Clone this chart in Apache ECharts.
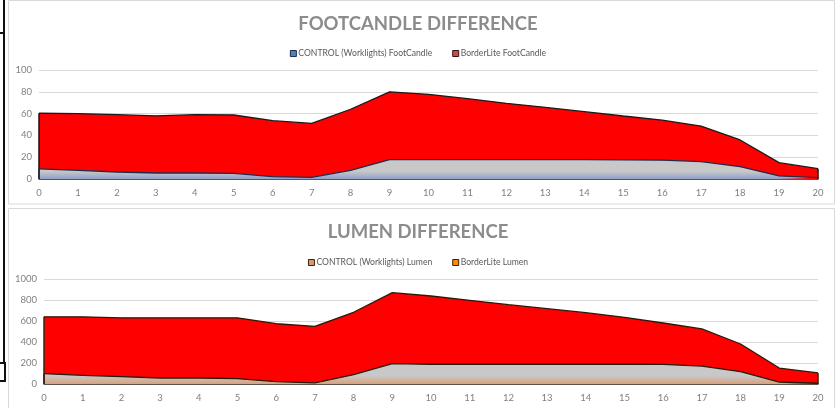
<!DOCTYPE html>
<html><head><meta charset="utf-8">
<script src="https://cdn.jsdelivr.net/npm/echarts@6/dist/echarts.min.js"></script>
<style>html,body{margin:0;padding:0;background:#fff}#c{width:836px;height:408px}</style>
</head><body><div id="c"></div>
<script>
const categories = ['0','1','2','3','4','5','6','7','8','9','10','11','12','13','14','15','16','17','18','19','20'];
const fcControl = [9.2, 8, 6.4, 5.5, 5.5, 5.2, 2.1, 1.5, 8, 17.7, 17.7, 17.7, 17.7, 17.7, 17.7, 17.6, 17.3, 16, 11.3, 2.8, 1.2];
const fcBorderLite = [60.3, 60, 59, 58, 59, 58.7, 53.5, 51, 64, 80, 77.7, 73.7, 69.4, 65.8, 61.8, 57.8, 54, 48.6, 35.8, 15, 9.5];
const lmControl = [98, 83, 70, 57, 57, 51, 22, 10, 89, 194, 188, 188, 188, 188, 188, 188, 186, 171, 117, 19, 7];
const lmBorderLite = [640, 640, 630, 630, 630, 630, 574, 549, 683, 870, 838, 797, 755, 717, 679, 635, 581, 524, 381, 152, 105];
const fcTicks = [0, 20, 40, 60, 80, 100];
const lmTicks = [0, 200, 400, 600, 800, 1000];
const names = {
  fcC: 'CONTROL (Worklights) FootCandle', fcB: 'BorderLite FootCandle',
  lmC: 'CONTROL (Worklights) Lumen', lmB: 'BorderLite Lumen'
};

const FONT = 'Lato';
const chart = echarts.init(document.getElementById('c'), null, {renderer: 'canvas'});
const axisLabel = {color: '#808080', fontSize: 9.5, fontFamily: FONT};
function edge(cat, val) {
  return [{coord: [cat, 0]}, {coord: [cat, val]}];
}
function grad(top, bottom) {
  return new echarts.graphic.LinearGradient(0, 0, 0, 1, [{offset: 0, color: top}, {offset: 0.6, color: top}, {offset: 1, color: bottom}]);
}
const last = categories.length - 1;
const legendText = {color: '#595959', fontSize: 8.6, fontFamily: FONT, padding: [0, 0, 0, -3]};
chart.setOption({
  animation: false,
  title: [
    {text: 'FOOTCANDLE DIFFERENCE', left: 'center', top: 10, textStyle: {color: '#8c8c8c', fontSize: 18.5, fontWeight: 'bold', fontFamily: FONT}},
    {text: 'LUMEN DIFFERENCE', left: 'center', top: 218, textStyle: {color: '#8c8c8c', fontSize: 18.5, fontWeight: 'bold', fontFamily: FONT}}
  ],
  legend: [
    {top: 44, left: 'center', itemWidth: 6, itemHeight: 6, itemGap: 20, icon: 'rect', textStyle: legendText,
     data: [{name: names.fcC, itemStyle: {color: '#4f81bd', borderColor: '#1f2d4d', borderWidth: 1}},
            {name: names.fcB, itemStyle: {color: '#c0504d', borderColor: '#3a1010', borderWidth: 1}}]},
    {top: 253, left: 'center', itemWidth: 6, itemHeight: 6, itemGap: 20, icon: 'rect', textStyle: legendText,
     data: [{name: names.lmC, itemStyle: {color: '#d99a6c', borderColor: '#3a2010', borderWidth: 1}},
            {name: names.lmB, itemStyle: {color: '#ff8c00', borderColor: '#3a2010', borderWidth: 1}}]}
  ],
  grid: [
    {left: 39, right: 18, top: 70, bottom: 229},
    {left: 44, right: 18, top: 279, bottom: 24}
  ],
  xAxis: [
    {gridIndex: 0, type: 'category', data: categories, boundaryGap: false,
     axisLine: {show: true, lineStyle: {color: '#1f2d4d', width: 1.5}}, axisTick: {show: false},
     axisLabel: Object.assign({margin: 9}, axisLabel)},
    {gridIndex: 1, type: 'category', data: categories, boundaryGap: false,
     axisLine: {show: true, lineStyle: {color: '#3a2414', width: 1.5}}, axisTick: {show: false},
     axisLabel: Object.assign({margin: 9}, axisLabel)}
  ],
  yAxis: [
    {gridIndex: 0, type: 'value', min: fcTicks[0], max: fcTicks[fcTicks.length - 1], interval: fcTicks[1] - fcTicks[0],
     axisLine: {show: false}, axisTick: {show: false}, axisLabel: Object.assign({margin: 7, formatter: v => String(v)}, axisLabel),
     splitLine: {lineStyle: {color: '#d9d9d9', width: 1}}},
    {gridIndex: 1, type: 'value', min: lmTicks[0], max: lmTicks[lmTicks.length - 1], interval: lmTicks[1] - lmTicks[0],
     axisLine: {show: false}, axisTick: {show: false}, axisLabel: Object.assign({margin: 7, formatter: v => String(v)}, axisLabel),
     splitLine: {lineStyle: {color: '#d9d9d9', width: 1}}}
  ],
  series: [
    {name: names.fcB, type: 'line', xAxisIndex: 0, yAxisIndex: 0, data: fcBorderLite, showSymbol: false,
     itemStyle: {color: '#c0504d'}, lineStyle: {color: '#1a1a1a', width: 1.3},
     areaStyle: {color: '#ff0000', opacity: 1},
     markLine: {silent: true, symbol: 'none', label: {show: false}, lineStyle: {color: '#2a0a0a', width: 1.5, type: 'solid'},
       data: [edge(categories[0], fcBorderLite[0]), edge(categories[last], fcBorderLite[last])]}},
    {name: names.fcC, type: 'line', xAxisIndex: 0, yAxisIndex: 0, data: fcControl, showSymbol: false,
     itemStyle: {color: '#4f81bd'}, lineStyle: {color: '#1f2d4d', width: 1.3},
     areaStyle: {color: grad('#c8c8c8', '#8fa0c8'), opacity: 1},
     markLine: {silent: true, symbol: 'none', label: {show: false}, lineStyle: {color: '#1f2d4d', width: 1.5, type: 'solid'},
       data: [edge(categories[0], fcControl[0])]}},
    {name: names.lmB, type: 'line', xAxisIndex: 1, yAxisIndex: 1, data: lmBorderLite, showSymbol: false,
     itemStyle: {color: '#ff8c00'}, lineStyle: {color: '#2a1a0a', width: 1.3},
     areaStyle: {color: '#ff0000', opacity: 1},
     markLine: {silent: true, symbol: 'none', label: {show: false}, lineStyle: {color: '#3a2010', width: 1.5, type: 'solid'},
       data: [edge(categories[0], lmBorderLite[0]), edge(categories[last], lmBorderLite[last])]}},
    {name: names.lmC, type: 'line', xAxisIndex: 1, yAxisIndex: 1, data: lmControl, showSymbol: false,
     itemStyle: {color: '#d99a6c'}, lineStyle: {color: '#2a1a0a', width: 1.3},
     areaStyle: {color: grad('#c8c8c8', '#d9a07a'), opacity: 1},
     markLine: {silent: true, symbol: 'none', label: {show: false}, lineStyle: {color: '#3a2010', width: 1.5, type: 'solid'},
       data: [edge(categories[0], lmControl[0])]}}
  ],
  graphic: [
    {type: 'rect', shape: {x: 8.5, y: 0.5, width: 826, height: 203.5}, style: {fill: null, stroke: '#d9d9d9', lineWidth: 1}, z: -1, silent: true},
    {type: 'rect', shape: {x: 8.5, y: 208.5, width: 826, height: 220}, style: {fill: null, stroke: '#d9d9d9', lineWidth: 1}, z: -1, silent: true},
    {type: 'line', shape: {x1: 4, y1: 0, x2: 4, y2: 363}, style: {stroke: '#111', lineWidth: 2}, silent: true},
    {type: 'line', shape: {x1: 0, y1: 33, x2: 4, y2: 33}, style: {stroke: '#111', lineWidth: 2}, silent: true},
    {type: 'rect', shape: {x: -2, y: 363, width: 7, height: 18}, style: {fill: null, stroke: '#111', lineWidth: 2}, silent: true}
  ]
});
</script></body></html>
